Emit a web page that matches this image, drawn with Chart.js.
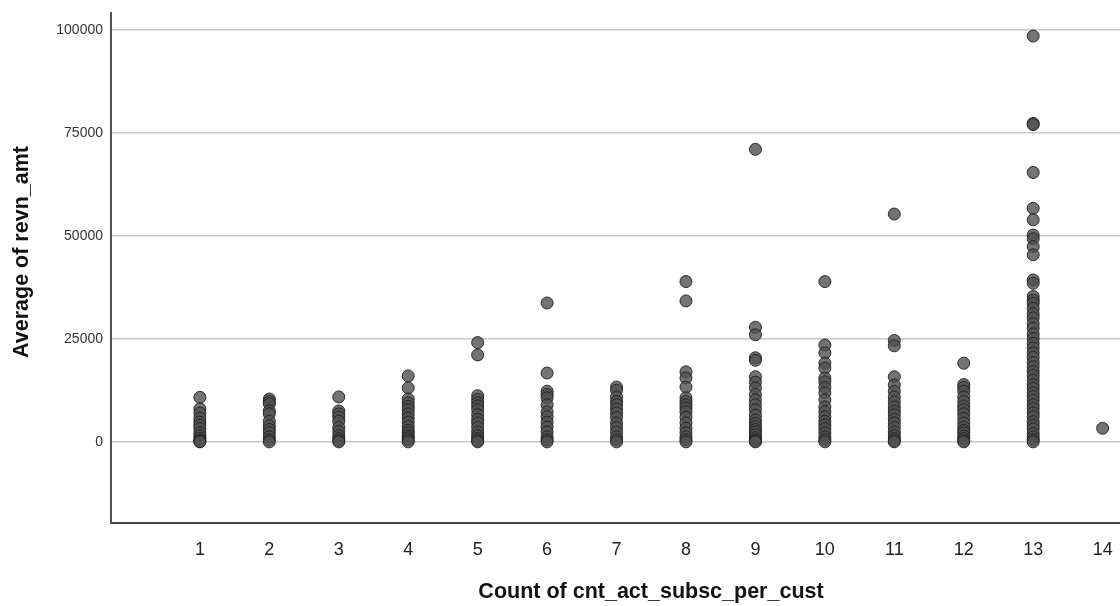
<!DOCTYPE html>
<html>
<head>
<meta charset="utf-8">
<script src="https://cdn.jsdelivr.net/npm/chart.js@4"></script>
<style>
  html, body { margin: 0; padding: 0; background: #fff; overflow: hidden; }
  canvas { display: block; }
</style>
</head>
<body>
<canvas id="scatter" width="1120" height="606"></canvas>
<script>
// Categories on the x axis (count of active subscriptions)
const counts = [1, 2, 3, 4, 5, 6, 7, 8, 9, 10, 11, 12, 13, 14];

// Average revenue values, one list per count
const revn1 = [10800, 8000, 7000, 5800, 4800, 4000, 3200, 2200, 1500, 900, 400, 100, 0];
const revn2 = [10400, 9800, 9200, 7500, 6800, 5000, 3900, 3000, 2200, 1200, 500, 0];
const revn3 = [10900, 7500, 6800, 6000, 5000, 3500, 2500, 1500, 800, 300, 0];
const revn4 = [16000, 13100, 10400, 9500, 8600, 7800, 6800, 5800, 4800, 3700, 2800, 2200, 1500, 1000, 500, 0];
const revn5 = [24100, 21100, 11200, 10300, 9500, 8700, 7800, 6600, 5500, 4600, 3500, 2400, 1500, 800, 300, 0];
const revn6 = [33700, 16700, 12300, 11500, 10700, 9000, 7300, 6100, 4800, 3600, 2400, 1200, 500, 0];
const revn7 = [13300, 12500, 10900, 9800, 9000, 8000, 7000, 5900, 4600, 3500, 2400, 1200, 500, 0];
const revn8 = [38900, 34200, 17000, 15500, 13300, 10700, 9800, 9000, 8200, 7300, 6000, 4600, 3300, 2200, 1200, 500, 0];
const revn9 = [71000, 27800, 26000, 20400, 19800, 15800, 14500, 13100, 11500, 10200, 9000, 7800, 6500, 5300, 4500, 3700, 3000, 2400, 1700, 1000, 500, 200, 0];
const revn10 = [38900, 23500, 21600, 19100, 17900, 15500, 14600, 13200, 11900, 10200, 8500, 7300, 6100, 5000, 4100, 3200, 2200, 1200, 500, 0];
const revn11 = [55300, 24600, 23300, 15800, 13800, 12300, 10900, 9700, 8500, 7500, 6600, 5500, 4600, 3500, 2400, 1500, 800, 300, 0];
const revn12 = [19100, 13900, 13200, 12300, 10900, 9800, 8700, 7800, 6800, 5700, 4600, 3600, 2800, 2200, 1400, 800, 300, 0];
const revn13 = [98500, 77300, 77000, 65400, 56700, 53900, 50200, 49300, 47400, 45400, 39300, 38500, 35300,
  34400, 33600, 32400, 31100, 30100, 28700, 27600, 26200, 25100, 23900, 22800, 21600, 20500, 19300, 18200,
  17100, 16100, 15000, 13900, 13000, 11900, 11000, 10100, 9000, 8100, 7000, 6100, 4900, 4000, 3100, 2000, 1200, 500, 0];
const revn14 = [3300];

// Axis ticks
const yTicks = [0, 25000, 50000, 75000, 100000];
const xTicks = counts;

const allRevn = [revn1, revn2, revn3, revn4, revn5, revn6, revn7, revn8, revn9, revn10, revn11, revn12, revn13, revn14];

const points = [];
allRevn.forEach((list, i) => {
    list.forEach(v => points.push({ x: counts[i], y: v }));
});

// Axis titles drawn at fixed spots, like the original export
const titlePlugin = {
    id: 'axisTitles',
    afterDraw(chart) {
        const ctx = chart.ctx;
        ctx.save();
        ctx.fillStyle = '#111';
        ctx.font = 'bold 21.5px "Liberation Sans", Arial, sans-serif';
        ctx.textAlign = 'center';
        ctx.textBaseline = 'middle';
        ctx.fillText('Count of cnt_act_subsc_per_cust', 651, 592);
        ctx.translate(22, 252);
        ctx.rotate(-Math.PI / 2);
        ctx.fillText('Average of revn_amt', 0, 0);
        ctx.restore();
    }
};

new Chart(document.getElementById('scatter'), {
    type: 'scatter',
    data: {
        datasets: [{
            data: points,
            pointRadius: 6,
            pointHoverRadius: 6,
            backgroundColor: 'rgba(80,80,80,0.8)',
            borderColor: 'rgba(30,30,30,0.9)',
            borderWidth: 1
        }]
    },
    options: {
        responsive: false,
        animation: false,
        layout: { autoPadding: false, padding: { top: 13, right: 0, left: 0, bottom: 0 } },
        plugins: {
            legend: { display: false },
            tooltip: { enabled: false }
        },
        scales: {
            x: {
                type: 'linear',
                min: -0.28,
                max: 14.25,
                afterBuildTicks: scale => { scale.ticks = xTicks.map(v => ({ value: v })); },
                afterFit: scale => {
                    scale.height = 83;
                    scale.paddingLeft = 0;
                    scale.paddingRight = 0;
                },
                grid: { display: false, drawTicks: false },
                border: { display: true, color: '#444', width: 2 },
                ticks: {
                    padding: 16,
                    color: '#222',
                    font: { size: 18, family: '"Liberation Sans", Arial, sans-serif' },
                    maxRotation: 0,
                    autoSkip: false
                }
            },
            y: {
                min: -19700,
                max: 104100,
                afterBuildTicks: scale => { scale.ticks = yTicks.map(v => ({ value: v })); },
                afterFit: scale => {
                    scale.width = 111;
                    scale.paddingTop = 0;
                    scale.paddingBottom = 0;
                },
                grid: { color: '#c8c8c8', lineWidth: 1.5, drawTicks: false },
                border: { display: true, color: '#555', width: 2 },
                ticks: {
                    padding: 8,
                    color: '#333',
                    font: { size: 14, family: '"Liberation Sans", Arial, sans-serif' },
                    callback: v => String(v)
                }
            }
        }
    },
    plugins: [titlePlugin]
});
</script>
</body>
</html>
